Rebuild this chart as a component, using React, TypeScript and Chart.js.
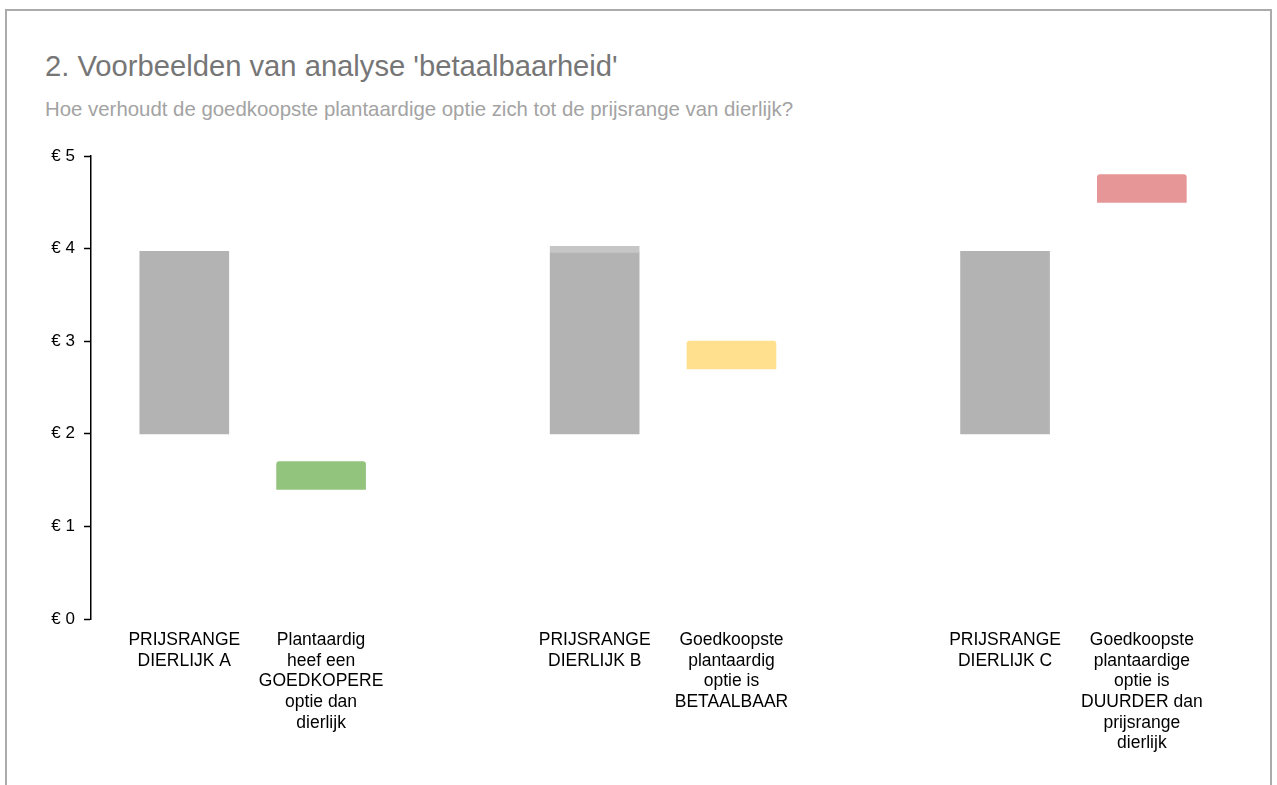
import React, { useEffect, useRef } from "react";
import { Chart, registerables } from "chart.js";

Chart.register(...registerables);

// ---- data ----
const positions = [0, 1, 3, 4, 6, 7];
const categoryLabels: string[][] = [
  ["PRIJSRANGE", "DIERLIJK A"],
  ["Plantaardig", "heef een", "GOEDKOPERE", "optie dan", "dierlijk"],
  ["PRIJSRANGE", "DIERLIJK B"],
  ["Goedkoopste", "plantaardig", "optie is", "BETAALBAAR"],
  ["PRIJSRANGE", "DIERLIJK C"],
  ["Goedkoopste", "plantaardige", "optie is", "DUURDER dan", "prijsrange", "dierlijk"],
];
const lowValues = [2, 1.4, 2, 2.7, 2, 4.5];
const highValues = [3.97, 1.7, 3.96, 3.0, 3.97, 4.8];
const barColors = ["#b3b3b3", "#93c47d", "#b3b3b3", "#ffe08f", "#b3b3b3", "#e69697"];
const stripePositions = [3];
const stripeLow = [3.96];
const stripeHigh = [4.025];
const yTicks = [0, 1, 2, 3, 4, 5];

const TITLE = "2. Voorbeelden van analyse 'betaalbaarheid'";
const SUBTITLE = "Hoe verhoudt de goedkoopste plantaardige optie zich tot de prijsrange van dierlijk?";

const FONT = "'Liberation Sans', Arial, Helvetica, sans-serif";

export default function App() {
  const canvasRef = useRef<HTMLCanvasElement | null>(null);

  useEffect(() => {
    const canvas = canvasRef.current;
    if (!canvas) return;
    const chart = new Chart(canvas, {
      type: "bar",
      data: {
        datasets: [
          {
            data: positions.map((x, i) => ({ x, y: [lowValues[i], highValues[i]] })) as any,
            backgroundColor: barColors,
            borderWidth: 0,
            borderSkipped: false,
            borderRadius: (ctx: any) =>
              barColors[ctx.dataIndex] === "#b3b3b3"
                ? 0
                : { topLeft: 3, topRight: 3, bottomLeft: 0, bottomRight: 0 },
            barThickness: 89,
            grouped: false,
            order: 2,
          } as any,
          {
            data: stripePositions.map((x, i) => ({ x, y: [stripeLow[i], stripeHigh[i]] })) as any,
            backgroundColor: "#c6c6c6",
            borderWidth: 0,
            borderSkipped: false,
            barThickness: 89,
            grouped: false,
            order: 1,
          } as any,
        ],
      },
      options: {
        animation: false,
        responsive: false,
        maintainAspectRatio: false,
        layout: { padding: { top: 20, right: 26, bottom: 0, left: 0 } },
        plugins: {
          legend: { display: false },
          tooltip: { enabled: false },
          title: { display: false },
        },
        scales: {
          x: {
            type: "linear",
            offset: false,
            min: -0.682,
            max: 7.798,
            grid: { display: false, drawTicks: false, offset: false },
            border: { display: false },
            afterBuildTicks: (scale: any) => {
              scale.ticks = positions.map((v) => ({ value: v }));
            },
            afterFit: (scale: any) => {
              scale.height = 166;
            },
            ticks: {
              autoSkip: false,
              maxRotation: 0,
              minRotation: 0,
              padding: 11,
              color: "#000000",
              font: { family: FONT, size: 17.5, lineHeight: 1.18 },
              callback: (value: any) => {
                const idx = positions.indexOf(Number(value));
                return idx >= 0 ? categoryLabels[idx] : "";
              },
            },
          },
          y: {
            type: "linear",
            min: 0,
            max: 5,
            afterBuildTicks: (scale: any) => {
              scale.ticks = yTicks.map((v) => ({ value: v }));
            },
            afterFit: (scale: any) => {
              scale.width = 91;
            },
            grid: {
              drawOnChartArea: false,
              drawTicks: true,
              tickLength: 7,
              tickWidth: 1.5,
              tickColor: "#000000",
              color: "#000000",
            },
            border: { display: true, color: "#000000", width: 1.5 },
            ticks: {
              padding: 9,
              color: "#000000",
              font: { family: FONT, size: 17 },
              callback: (value: any) => "€ " + value,
            },
          },
        },
      } as any,
    });
    return () => chart.destroy();
  }, []);

  return (
    <div
      style={{
        position: "absolute",
        left: 0,
        top: 0,
        width: 1277,
        height: 785,
        overflow: "hidden",
        background: "#ffffff",
        fontFamily: FONT,
      }}
    >
      <div
        style={{
          position: "absolute",
          left: 5,
          top: 9,
          width: 1267,
          height: 820,
          boxSizing: "border-box",
          border: "2px solid #ababab",
        }}
      />
      <div
        style={{
          position: "absolute",
          left: 45,
          top: 52,
          fontSize: 29.2,
          lineHeight: "29px",
          color: "#767676",
          whiteSpace: "nowrap",
        }}
      >
        {TITLE}
      </div>
      <div
        style={{
          position: "absolute",
          left: 45,
          top: 99,
          fontSize: 20.4,
          lineHeight: "20px",
          color: "#a3a3a3",
          whiteSpace: "nowrap",
        }}
      >
        {SUBTITLE}
      </div>
      <div style={{ position: "absolute", left: 0, top: 136, width: 1277, height: 649 }}>
        <canvas ref={canvasRef} width={1277} height={649} style={{ width: 1277, height: 649 }} />
      </div>
    </div>
  );
}
